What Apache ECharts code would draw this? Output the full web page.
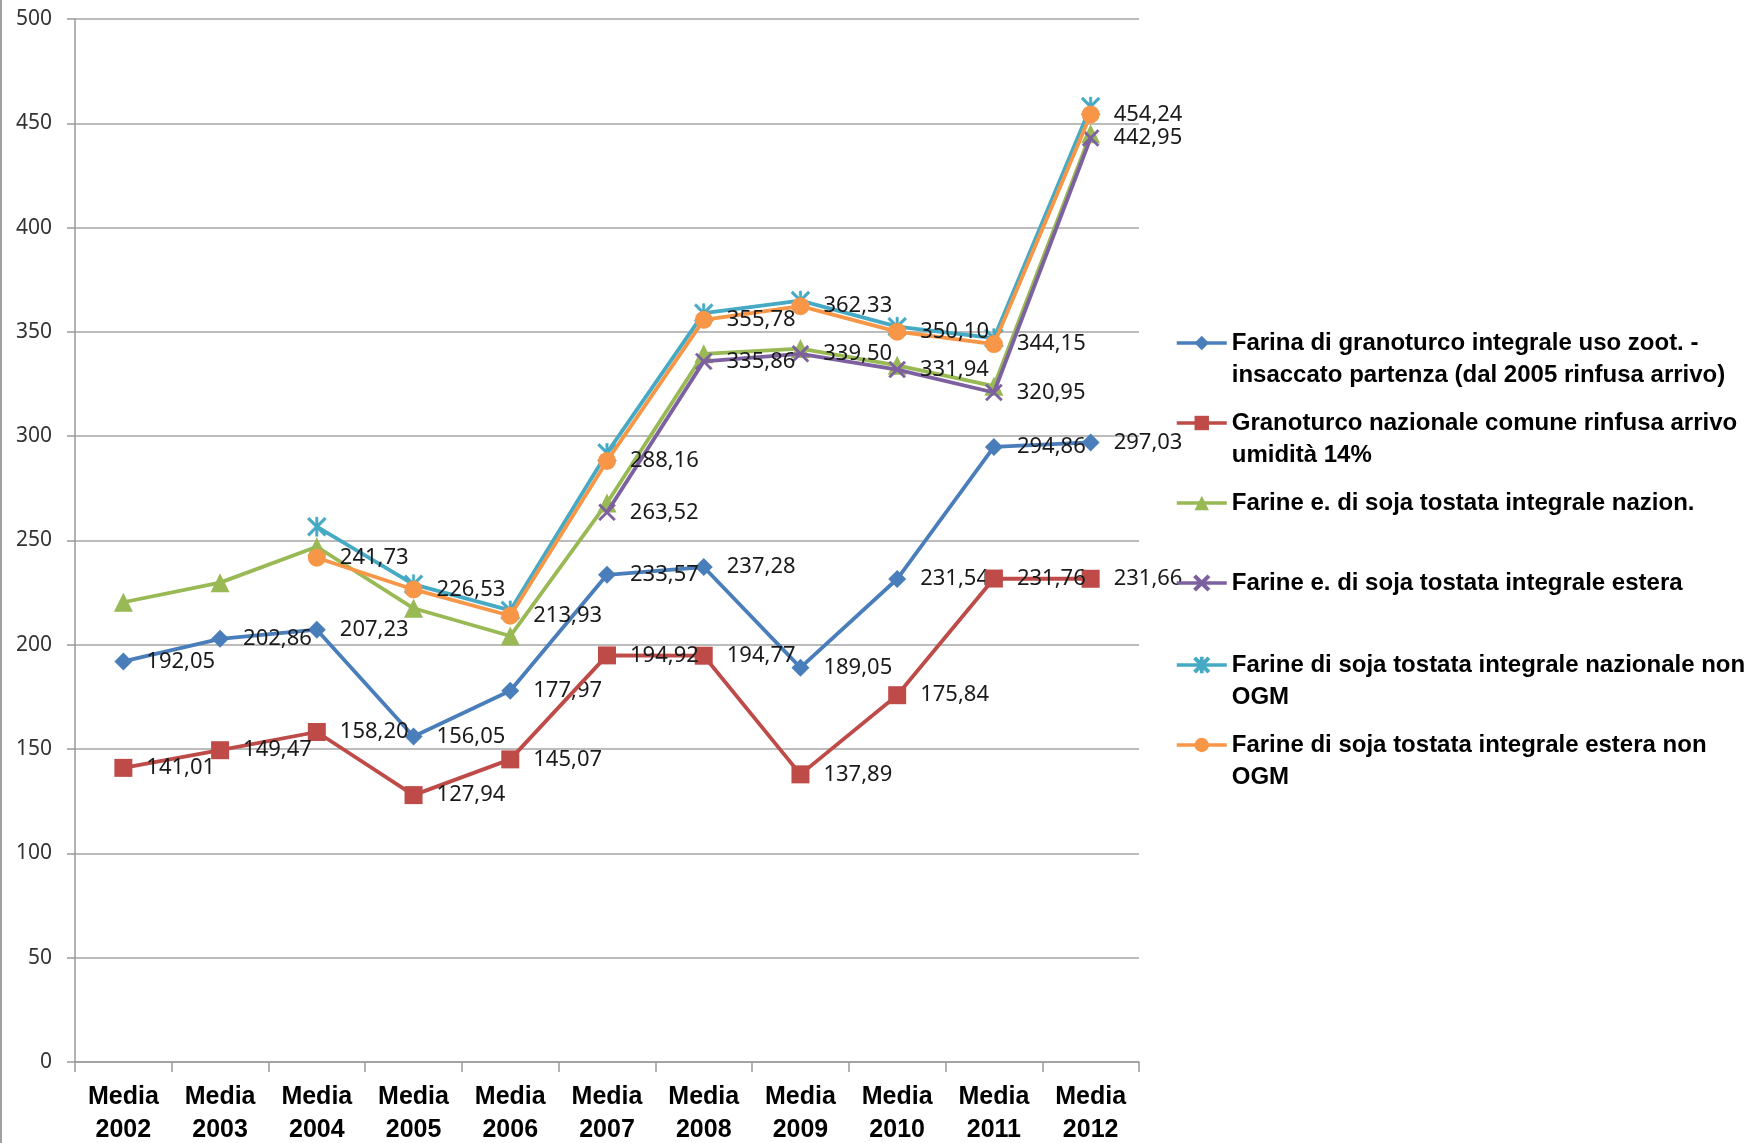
<!DOCTYPE html>
<html><head><meta charset="utf-8">
<script src="https://cdn.jsdelivr.net/npm/echarts@6/dist/echarts.min.js"></script>
<style>html,body{margin:0;padding:0;background:#fff}#c{width:1755px;height:1143px}</style>
</head><body><div id="c"></div>
<script>
const categories = ['Media\n2002','Media\n2003','Media\n2004','Media\n2005','Media\n2006','Media\n2007','Media\n2008','Media\n2009','Media\n2010','Media\n2011','Media\n2012'];
const seriesNames = [
  'Farina di granoturco integrale uso zoot. - insaccato partenza (dal 2005 rinfusa arrivo)',
  'Granoturco nazionale comune rinfusa arrivo umidità 14%',
  'Farine e. di soja tostata integrale nazion.',
  'Farine e. di soja tostata integrale estera',
  'Farine di soja tostata integrale nazionale non OGM',
  'Farine di soja tostata integrale estera non OGM'
];
const legendLines = [
  ['Farina di granoturco integrale uso zoot. -', 'insaccato partenza (dal 2005 rinfusa arrivo)'],
  ['Granoturco nazionale comune rinfusa arrivo', 'umidità 14%'],
  ['Farine e. di soja tostata integrale nazion.', ''],
  ['Farine e. di soja tostata integrale estera', ''],
  ['Farine di soja tostata integrale nazionale non', 'OGM'],
  ['Farine di soja tostata integrale estera non', 'OGM']
];
const farinaGranoturco = [192.05, 202.86, 207.23, 156.05, 177.97, 233.57, 237.28, 189.05, 231.54, 294.86, 297.03];
const granoturcoNazionale = [141.01, 149.47, 158.20, 127.94, 145.07, 194.92, 194.77, 137.89, 175.84, 231.76, 231.66];
const sojaNazion = [220.4, 229.8, 247.0, 217.5, 204.2, 268.0, 339.5, 342.0, 334.0, 324.0, 445.0];
const sojaEstera = [null, null, null, null, null, 263.52, 335.86, 339.50, 331.94, 320.95, 442.95];
const sojaNazNonOgm = [null, null, 256.6, 229.0, 216.5, 292.0, 359.0, 365.0, 352.5, 347.0, 458.0];
const sojaEstNonOgm = [null, null, 241.73, 226.53, 213.93, 288.16, 355.78, 362.33, 350.10, 344.15, 454.24];
const yMin = 0, yMax = 500, yStep = 50;

const colors = ['#4A7EBB', '#BE4B48', '#98B954', '#7D60A0', '#46AAC5', '#F79646'];
const xPath = 'path://M0,1L1,0L5,4L9,0L10,1L6,5L10,9L9,10L5,6L1,10L0,9L4,5Z';
const starPath = 'path://M0,1L1,0L5,4L9,0L10,1L6,5L10,9L9,10L5,6L1,10L0,9L4,5Z M4.4,0L5.6,0L5.6,10L4.4,10Z';
const symbols = ['diamond', 'rect', 'triangle', xPath, starPath, 'circle'];
const symbolSizes = [18, 18, 19, 17, 19, 18];
const showLabels = [true, true, false, true, false, true];
const dataSets = [farinaGranoturco, granoturcoNazionale, sojaNazion, sojaEstera, sojaNazNonOgm, sojaEstNonOgm];
const legendCenters = [343, 423, 503, 583, 665, 745];

const labelFont = 'Noto Sans';
const boldFont = '"Liberation Sans", Arial, sans-serif';

const chart = echarts.init(document.getElementById('c'), null, {renderer: 'canvas'});
const option = {
  animation: false,
  backgroundColor: '#fff',
  grid: {left: 75, right: 616, top: 19, bottom: 81, containLabel: false, outerBoundsMode: 'none'},
  xAxis: {
    type: 'category', data: categories, boundaryGap: true,
    axisLine: {lineStyle: {color: '#9a9a9a', width: 1.5}},
    axisTick: {show: true, interval: 0, length: 10, lineStyle: {color: '#9a9a9a', width: 1.5}},
    axisLabel: {interval: 0, margin: 19, color: '#000', fontFamily: boldFont, fontWeight: 'bold', fontSize: 25, lineHeight: 33}
  },
  yAxis: {
    type: 'value', min: yMin, max: yMax, interval: yStep,
    axisLine: {show: true, lineStyle: {color: '#9a9a9a', width: 1.5}},
    axisTick: {show: true, length: 8, lineStyle: {color: '#9a9a9a', width: 1.5}},
    splitLine: {lineStyle: {color: '#a6a6a6', width: 1.5}},
    axisLabel: {margin: 23, color: '#333', fontFamily: labelFont, fontSize: 21}
  },
  legend: seriesNames.map((n, i) => ({
    data: [n], left: 1175, top: legendCenters[i] - 48, orient: 'vertical',
    itemWidth: 50, itemHeight: 18, itemGap: 0, padding: 0, selectedMode: false,
    lineStyle: {width: 3.5},
    formatter: () => '\n' + legendLines[i][0] + '\n' + legendLines[i][1],
    textStyle: {fontFamily: boldFont, fontWeight: 'bold', fontSize: 24, lineHeight: 32, color: '#000'}
  })),
  graphic: [{type: 'line', shape: {x1: 1, y1: 0, x2: 1, y2: 1143}, style: {stroke: '#a0a0a0', lineWidth: 2}}],
  series: seriesNames.map((n, i) => ({
    name: n, type: 'line', data: dataSets[i], color: colors[i],
    symbol: symbols[i], symbolSize: symbolSizes[i], showAllSymbol: true,
    lineStyle: {width: 3.8, color: colors[i]},
    itemStyle: {color: colors[i], borderColor: colors[i], borderWidth: (i === 3 || i === 4) ? 0.6 : 0},
    z: 2 + i,
    label: {
      show: showLabels[i], position: 'right', distance: 14, offset: [0, 2],
      color: '#1a1a1a', fontFamily: labelFont, fontSize: 22,
      formatter: p => p.value == null ? '' : Number(p.value).toFixed(2).replace('.', ',')
    },
    labelLayout: {hideOverlap: false},
    emphasis: {disabled: true}
  }))
};
chart.setOption(option);
</script></body></html>
